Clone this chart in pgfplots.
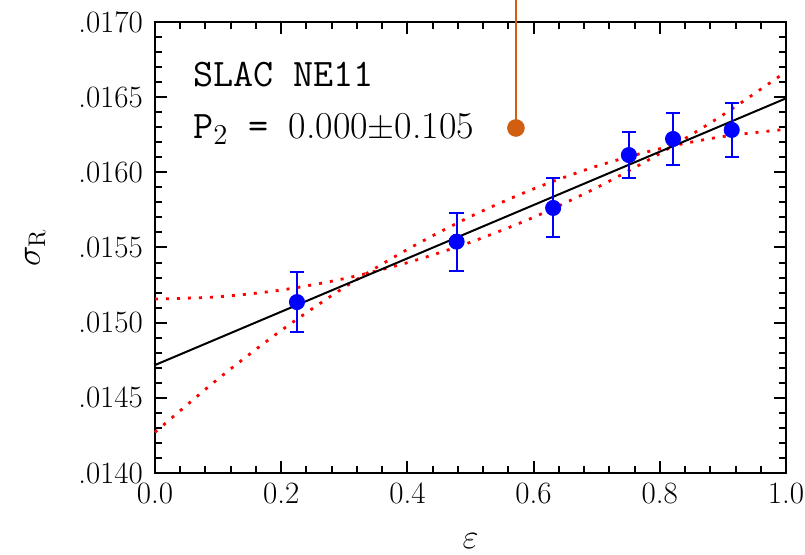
\documentclass[border=0pt]{standalone}
\usepackage{pgfplots}
\pgfplotsset{compat=1.18}
\definecolor{pinorange}{RGB}{210,95,15}

\begin{document}
\begin{tikzpicture}
\begin{axis}[
    name=ax,
    scale only axis,
    width=315.5pt, height=225.5pt,
    xmin=0, xmax=1,
    ymin=0.014, ymax=0.017,
    xtick={0,0.2,0.4,0.6,0.8,1.0},
    xticklabels={0.0,0.2,0.4,0.6,0.8,1.0},
    ytick={0.014,0.0145,0.015,0.0155,0.016,0.0165,0.017},
    yticklabels={.0140,.0145,.0150,.0155,.0160,.0165,.0170},
    scaled y ticks=false,
    minor x tick num=4,
    minor y tick num=4,
    tick align=inside,
    major tick length=6pt,
    minor tick length=3.5pt,
    axis line style={line width=1pt},
    every tick/.style={black, line width=1pt},
    tick label style={font=\fontsize{15.5}{18}\selectfont},
    xticklabel style={yshift=-1.5pt},
    yticklabel style={xshift=-2.5pt},
    xlabel={$\varepsilon$},
    ylabel={$\sigma_{\mathrm{R}}$},
    every axis x label/.style={at={(axis description cs:0.5,-0.15)}, anchor=center, font=\fontsize{17}{20}\selectfont},
    every axis y label/.style={at={(axis description cs:-0.19,0.5)}, rotate=90, anchor=center, font=\fontsize{17}{20}\selectfont},
    clip=false,
]
% quadratic fits (dotted)
\addplot[red, line width=1.4pt, dash pattern=on 1.5pt off 4pt, smooth] coordinates {
    (0.0,0.015157) (0.1,0.015172) (0.2,0.015217) (0.3,0.015293) (0.4,0.015399)
    (0.5,0.015535) (0.6,0.015701) (0.7,0.015898) (0.8,0.016125) (0.9,0.016382) (1.0,0.016669)
};
\addplot[red, line width=1.4pt, dash pattern=on 1.5pt off 4pt, smooth] coordinates {
    (0.0,0.014271) (0.1,0.014626) (0.2,0.014948) (0.3,0.015235) (0.4,0.015487)
    (0.5,0.015706) (0.6,0.015890) (0.7,0.016041) (0.8,0.016157) (0.9,0.016238) (1.0,0.016286)
};
% linear fit
\addplot[black, line width=1pt] coordinates {(0,0.014718) (1,0.016492)};
% data
\addplot[blue, only marks, mark=*, mark size=3.8pt,
    error bars/.cd, y dir=both, y explicit,
    error bar style={line width=1pt, blue},
    error mark options={rotate=90, mark size=3.6pt, line width=1pt, blue}]
  coordinates {
    (0.225,0.015137) +- (0,0.000200)
    (0.478,0.015539) +- (0,0.000193)
    (0.631,0.015763) +- (0,0.000196)
    (0.751,0.016115) +- (0,0.000155)
    (0.821,0.016222) +- (0,0.000170)
    (0.914,0.016282) +- (0,0.000177)
};
% P2 pin
\addplot[pinorange, line width=1pt] coordinates {(0.572,0.016295) (0.572,0.0172)};
\addplot[pinorange, only marks, mark=*, mark size=4.2pt] coordinates {(0.572,0.016295)};
\node[anchor=base west, inner sep=0pt, font=\ttfamily\fontsize{19.5}{22}\selectfont]
  at (axis cs:0.06,0.016568) {SLAC NE11};
\node[anchor=base west, inner sep=0pt, font=\fontsize{19}{22}\selectfont]
  at (axis cs:0.06,0.016228) {{\ttfamily\fontsize{19.5}{22}\selectfont P$_{2}$ = }0.000$\pm$0.105};
\end{axis}
\pgfresetboundingbox
\path[use as bounding box] ([xshift=-77.5pt,yshift=-41pt]ax.south west) rectangle ([xshift=9.5pt,yshift=11pt]ax.north east);
\end{tikzpicture}
\end{document}
